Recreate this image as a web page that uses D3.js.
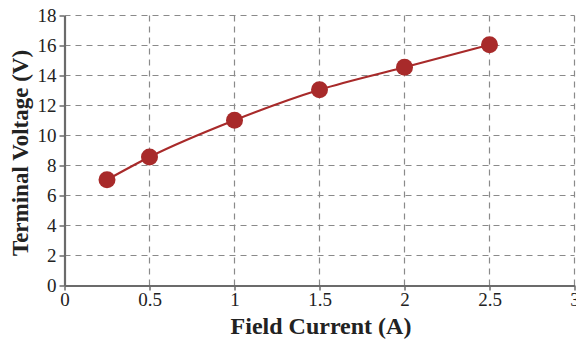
<!DOCTYPE html>
<html>
<head>
<meta charset="utf-8">
<script src="https://cdn.jsdelivr.net/npm/d3@7"></script>
<style>
  html, body { margin: 0; padding: 0; background: #fff; overflow: hidden; }
</style>
</head>
<body>
<script>
'use strict';

const fieldCurrent = [0.25, 0.5, 1, 1.5, 2, 2.5];
const terminalVoltage = [7.05, 8.57, 11.02, 13.05, 14.55, 16.05];
const xTicks = [0, 0.5, 1, 1.5, 2, 2.5, 3];
const yTicks = [0, 2, 4, 6, 8, 10, 12, 14, 16, 18];

const W = 576, H = 341;
const serif = "'Liberation Serif', 'Times New Roman', serif";
const svg = d3.select('body').append('svg').attr('width', W).attr('height', H);

const x = d3.scaleLinear().domain([0, 3]).range([64.5, 574.5]);
const y = d3.scaleLinear().domain([0, 18]).range([285.5, 15.5]);

const grid = svg.append('g')
    .attr('stroke', '#8a8a8a')
    .attr('stroke-width', 1.2)
    .attr('stroke-dasharray', '6,5');
grid.selectAll('line.h').data(yTicks.filter(d => d > 0)).enter().append('line')
    .attr('x1', x(0)).attr('x2', x(3))
    .attr('y1', d => y(d)).attr('y2', d => y(d));
grid.selectAll('line.v').data(xTicks.filter(d => d > 0)).enter().append('line')
    .attr('y1', y(0)).attr('y2', y(18))
    .attr('x1', d => x(d)).attr('x2', d => x(d));

// axes
const xAxis = svg.append('g')
    .attr('transform', `translate(0, ${y(0)})`)
    .call(d3.axisBottom(x).tickValues(xTicks).tickFormat(d3.format('')).tickSize(5).tickSizeOuter(0));
const yAxis = svg.append('g')
    .attr('transform', `translate(${x(0)}, 0)`)
    .call(d3.axisLeft(y).tickValues(yTicks).tickSize(5).tickSizeOuter(0));

[xAxis, yAxis].forEach(a => {
  a.attr('font-family', null).attr('font-size', null);
  a.select('.domain').attr('stroke', '#6b6b6b').attr('stroke-width', 2.2);
  a.selectAll('.tick line').attr('stroke', '#6b6b6b').attr('stroke-width', 1.5);
  a.selectAll('.tick text')
      .style('font-family', serif)
      .style('font-size', '19px')
      .attr('fill', '#222');
});
xAxis.selectAll('.tick text').attr('dy', '0.75em').attr('y', 6);
yAxis.selectAll('.tick text').attr('x', -8);

// data line
const pts = fieldCurrent.map((v, i) => [v, terminalVoltage[i]]);
svg.append('path')
    .datum(pts)
    .attr('fill', 'none')
    .attr('stroke', '#a82a2a')
    .attr('stroke-width', 2.2)
    .attr('d', d3.line().x(d => x(d[0])).y(d => y(d[1])).curve(d3.curveMonotoneX));

svg.selectAll('circle.pt').data(pts).enter().append('circle')
    .attr('cx', d => x(d[0]))
    .attr('cy', d => y(d[1]))
    .attr('r', 8.5)
    .attr('fill', '#a82a2a');

// axis titles
svg.append('text')
    .attr('x', 321).attr('y', 334)
    .attr('text-anchor', 'middle')
    .style('font-family', serif)
    .style('font-weight', 'bold')
    .style('font-size', '24px')
    .attr('fill', '#222')
    .text('Field Current (A)');
svg.append('text')
    .attr('transform', 'translate(28, 153) rotate(-90)')
    .attr('text-anchor', 'middle')
    .style('font-family', serif)
    .style('font-weight', 'bold')
    .style('font-size', '23px')
    .attr('fill', '#222')
    .text('Terminal Voltage (V)');
</script>
</body>
</html>
